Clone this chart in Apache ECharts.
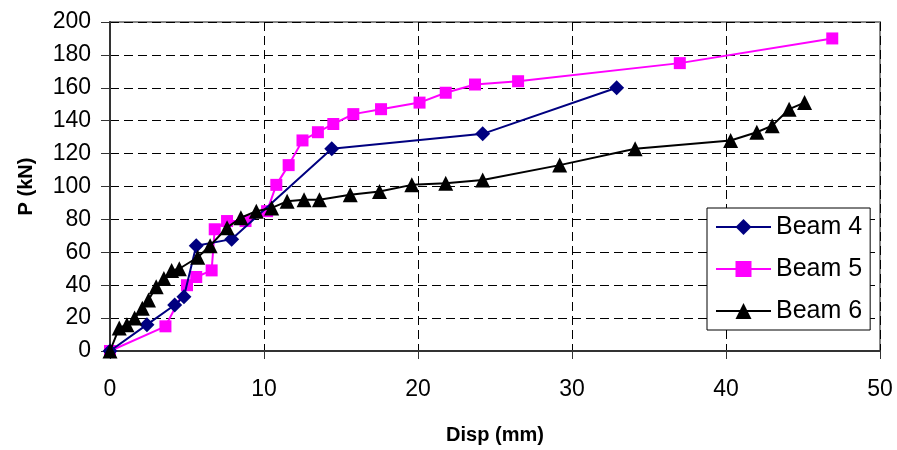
<!DOCTYPE html>
<html>
<head>
<meta charset="utf-8">
<script src="https://cdn.jsdelivr.net/npm/echarts@6/dist/echarts.min.js"></script>
<style>
  html, body { margin: 0; padding: 0; background: #fff; }
  #chart { width: 897px; height: 450px; }
</style>
</head>
<body>
<div id="chart"></div>
<script>
// [disp (mm), load (kN)]
var beam4 = [[0, 0], [2.4, 16], [4.2, 28], [4.8, 33], [5.6, 64], [7.9, 68], [14.4, 123], [24.2, 132], [32.9, 160]]
var beam5 = [[0, 0], [3.6, 15], [5.0, 40], [5.6, 45], [6.6, 49], [6.8, 74], [7.6, 79], [8.8, 79], [10.2, 85],
  [10.8, 101], [11.6, 113], [12.5, 128], [13.5, 133], [14.5, 138], [15.8, 144], [17.6, 147], [20.1, 151],
  [21.8, 157], [23.7, 162], [26.5, 164], [37.0, 175], [46.9, 190]]
var beam6 = [[0, 0], [0.6, 14], [1.1, 16], [1.6, 20], [2.1, 26], [2.5, 31], [3.0, 39], [3.5, 44], [4.0, 49],
  [4.5, 50], [5.7, 57], [6.5, 64], [7.6, 75], [8.5, 81], [9.5, 85], [10.5, 87], [11.5, 91], [12.6, 92],
  [13.6, 92], [15.6, 95], [17.5, 97], [19.6, 101], [21.8, 102], [24.2, 104], [29.2, 113], [34.1, 123],
  [40.3, 128], [42.0, 133], [43.0, 137], [44.1, 147], [45.1, 151]]
var seriesNames = ['Beam 4', 'Beam 5', 'Beam 6']

var chart = echarts.init(document.getElementById('chart'))
var font = 'Arial, "Liberation Sans", sans-serif'

chart.setOption({
  animation: false,
  textStyle: { fontFamily: font },
  grid: {
    left: 110,
    top: 22,
    width: 770,
    height: 332,
    show: true,
    borderColor: '#888',
    borderWidth: 2,
    backgroundColor: '#fff'
  },
  legend: {
    data: seriesNames,
    orient: 'vertical',
    left: 707,
    top: 208,
    padding: [5, 8, 5, 8],
    itemWidth: 55,
    itemHeight: 20,
    itemGap: 14,
    borderColor: '#000',
    borderWidth: 1,
    backgroundColor: '#fff',
    textStyle: { fontSize: 25, lineHeight: 28, color: '#000', fontFamily: font }
  },
  xAxis: {
    type: 'value',
    min: 0,
    max: 50,
    interval: 10,
    name: 'Disp (mm)',
    nameLocation: 'middle',
    nameGap: 74,
    nameTextStyle: { fontSize: 20, fontWeight: 'bold', color: '#000' },
    axisLine: { onZero: false, lineStyle: { color: '#333', width: 2 } },
    axisTick: { length: 8, lineStyle: { color: '#333' } },
    axisLabel: { fontSize: 23, color: '#000', margin: 27 },
    splitLine: { lineStyle: { color: '#000', type: [9, 5], width: 1 } }
  },
  yAxis: {
    type: 'value',
    min: 0,
    max: 200,
    interval: 20,
    name: 'P (kN)',
    nameLocation: 'middle',
    nameGap: 74,
    nameRotate: 90,
    nameTextStyle: { fontSize: 20, fontWeight: 'bold', color: '#000' },
    axisLine: { show: true, lineStyle: { color: '#333', width: 2 } },
    axisTick: { show: true, length: 9, lineStyle: { color: '#333' } },
    axisLabel: { fontSize: 23, color: '#000', margin: 19 },
    splitLine: { lineStyle: { color: '#000', type: [9, 5], width: 1 } }
  },
  series: [
    {
      name: 'Beam 4',
      type: 'line',
      data: beam4,
      symbol: 'diamond',
      symbolSize: 15,
      itemStyle: { color: '#000080' },
      lineStyle: { color: '#000080', width: 2 },
      z: 3
    },
    {
      name: 'Beam 5',
      type: 'line',
      data: beam5,
      symbol: 'rect',
      symbolSize: 12,
      itemStyle: { color: '#ff00ff' },
      lineStyle: { color: '#ff00ff', width: 2 },
      z: 2
    },
    {
      name: 'Beam 6',
      type: 'line',
      data: beam6,
      symbol: 'triangle',
      symbolSize: 15,
      itemStyle: { color: '#000' },
      lineStyle: { color: '#000', width: 2 },
      z: 4
    }
  ]
})
</script>
</body>
</html>
